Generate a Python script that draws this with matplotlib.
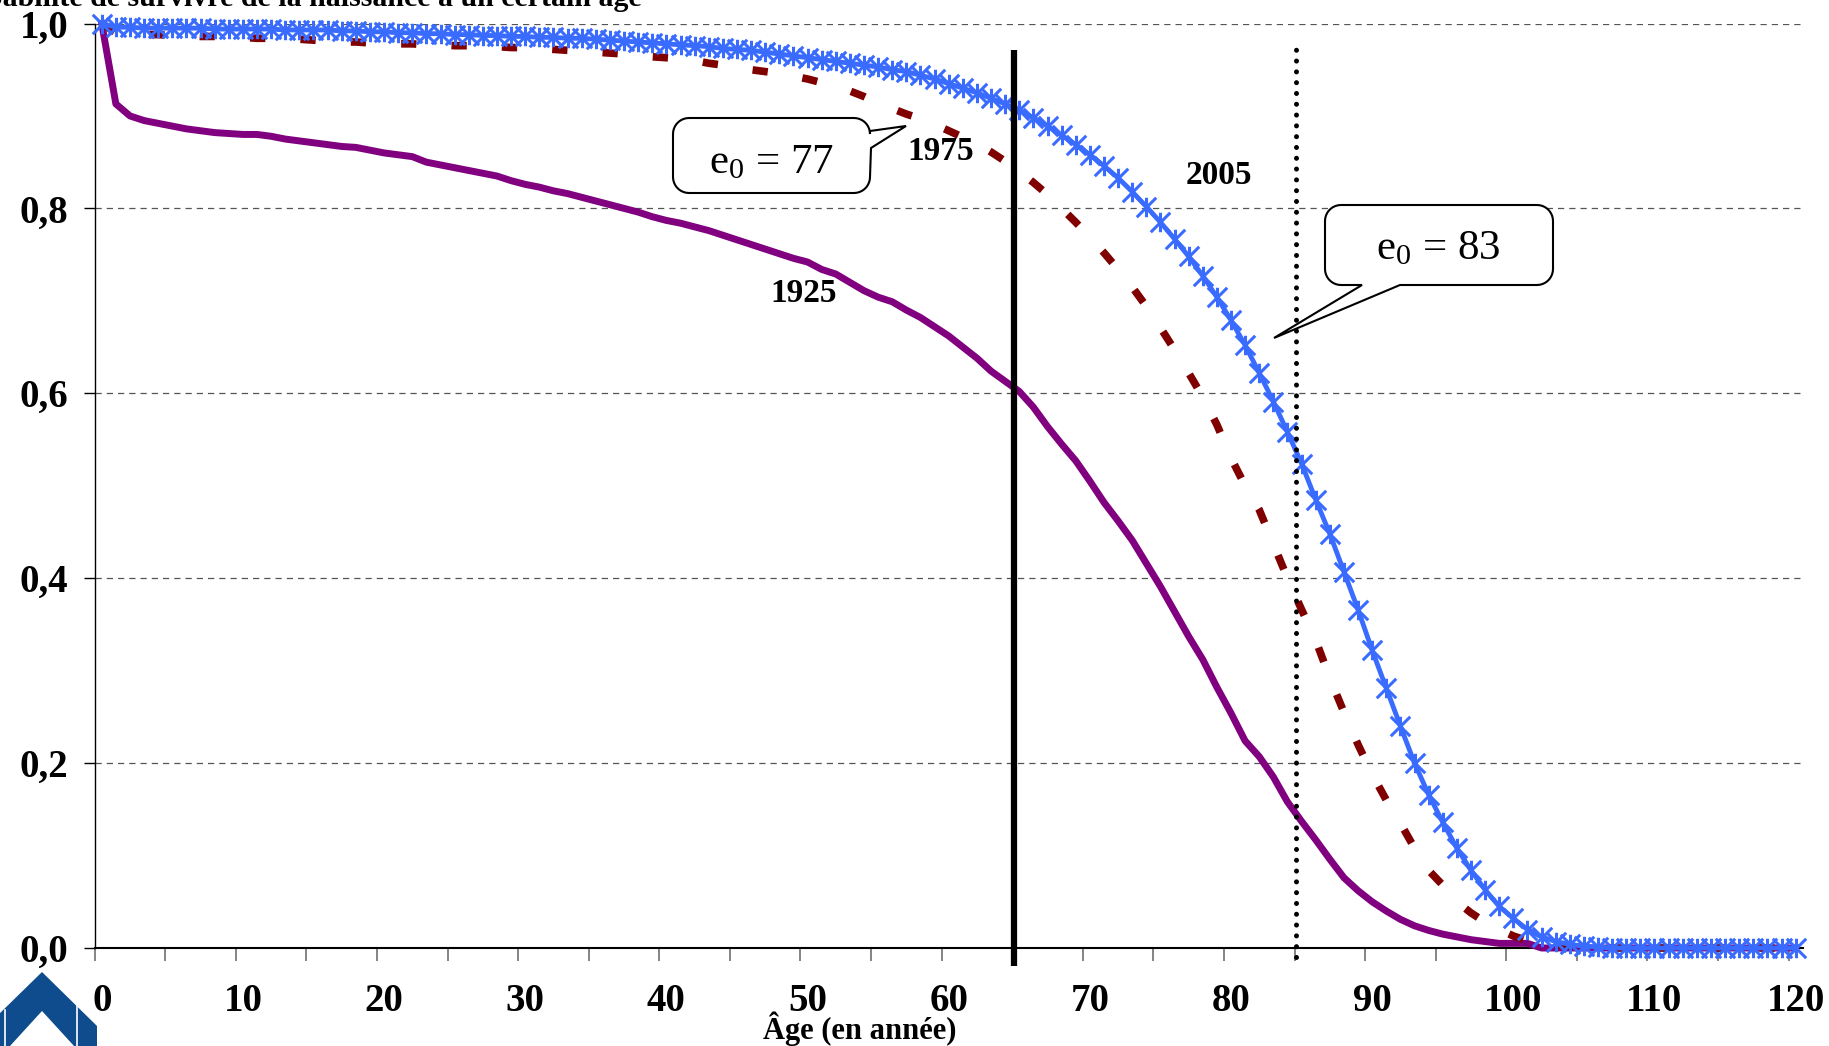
import numpy as np
import matplotlib
matplotlib.use('Agg')
import matplotlib.pyplot as plt
from matplotlib.path import Path
from matplotlib.patches import Polygon

plt.rcParams.update({'font.family': 'Liberation Serif', 'mathtext.fontset': 'custom',
                     'mathtext.rm': 'Liberation Serif', 'mathtext.it': 'Liberation Serif:italic'})

W, H = 1829, 1046

# ---- données ----
ages = list(range(0, 121))
s1925 = [1.000, 0.913, 0.900, 0.895, 0.892, 0.889, 0.886, 0.884, 0.882, 0.881,
         0.880, 0.880, 0.878, 0.875, 0.873, 0.871, 0.869, 0.867, 0.866, 0.863,
         0.860, 0.858, 0.856, 0.850, 0.847, 0.844, 0.841, 0.838, 0.835, 0.830,
         0.826, 0.823, 0.819, 0.816, 0.812, 0.808, 0.804, 0.800, 0.796, 0.791,
         0.787, 0.784, 0.780, 0.776, 0.771, 0.766, 0.761, 0.756, 0.751, 0.746,
         0.742, 0.734, 0.729, 0.720, 0.711, 0.704, 0.699, 0.690, 0.682, 0.672,
         0.662, 0.650, 0.638, 0.624, 0.613, 0.602, 0.585, 0.564, 0.545, 0.527,
         0.505, 0.482, 0.462, 0.441, 0.416, 0.391, 0.364, 0.337, 0.312, 0.282,
         0.254, 0.224, 0.207, 0.185, 0.158, 0.137, 0.117, 0.096, 0.076, 0.062,
         0.050, 0.040, 0.031, 0.024, 0.019, 0.015, 0.012, 0.009, 0.007, 0.005,
         0.005, 0.005, 0.000, 0.000, 0.000, 0.000, 0.000, 0.000, 0.000, 0.000,
         0.000, 0.000, 0.000, 0.000, 0.000, 0.000, 0.000, 0.000, 0.000, 0.000,
         0.000]
s1975 = [1.000, 0.990, 0.989, 0.988, 0.988, 0.987, 0.987, 0.986, 0.986, 0.985,
         0.985, 0.984, 0.984, 0.983, 0.983, 0.982, 0.981, 0.980, 0.980, 0.979,
         0.979, 0.978, 0.978, 0.977, 0.977, 0.976, 0.976, 0.975, 0.975, 0.974,
         0.974, 0.973, 0.972, 0.971, 0.970, 0.969, 0.968, 0.967, 0.966, 0.964,
         0.963, 0.962, 0.960, 0.957, 0.955, 0.953, 0.950, 0.948, 0.946, 0.943,
         0.940, 0.936, 0.932, 0.927, 0.921, 0.914, 0.908, 0.902, 0.897, 0.891,
         0.884, 0.877, 0.870, 0.861, 0.851, 0.840, 0.828, 0.815, 0.800, 0.785,
         0.769, 0.752, 0.734, 0.715, 0.694, 0.671, 0.647, 0.622, 0.596, 0.566,
         0.530, 0.500, 0.474, 0.437, 0.400, 0.366, 0.333, 0.292, 0.255, 0.220,
         0.188, 0.160, 0.135, 0.108, 0.084, 0.068, 0.050, 0.038, 0.028, 0.020,
         0.013, 0.008, 0.005, 0.003, 0.002, 0.001, 0.000, 0.000, 0.000, 0.000,
         0.000, 0.000, 0.000, 0.000, 0.000, 0.000, 0.000, 0.000, 0.000, 0.000,
         0.000]
s2005 = [1.000, 0.996, 0.996, 0.995, 0.995, 0.995, 0.995, 0.995, 0.994, 0.994,
         0.994, 0.994, 0.994, 0.993, 0.993, 0.993, 0.993, 0.992, 0.992, 0.991,
         0.991, 0.990, 0.990, 0.989, 0.989, 0.988, 0.988, 0.987, 0.987, 0.986,
         0.986, 0.985, 0.985, 0.984, 0.984, 0.983, 0.982, 0.981, 0.980, 0.979,
         0.978, 0.977, 0.976, 0.975, 0.973, 0.972, 0.971, 0.969, 0.967, 0.965,
         0.963, 0.961, 0.959, 0.957, 0.955, 0.953, 0.950, 0.948, 0.944, 0.940,
         0.935, 0.930, 0.925, 0.919, 0.913, 0.906, 0.898, 0.889, 0.879, 0.869,
         0.858, 0.846, 0.833, 0.818, 0.802, 0.785, 0.767, 0.748, 0.727, 0.704,
         0.679, 0.652, 0.622, 0.591, 0.558, 0.524, 0.485, 0.448, 0.407, 0.366,
         0.322, 0.281, 0.240, 0.200, 0.166, 0.136, 0.108, 0.084, 0.063, 0.045,
         0.032, 0.020, 0.012, 0.007, 0.004, 0.002, 0.001, 0.000, 0.000, 0.000,
         0.000, 0.000, 0.000, 0.000, 0.000, 0.000, 0.000, 0.000, 0.000, 0.000,
         0.000]
yticks = [0.0, 0.2, 0.4, 0.6, 0.8, 1.0]
xticks = list(range(0, 121, 10))
age_lines = [64.6, 84.6]   # traits verticaux (65 ans, 85 ans)

# marqueur "étoile" Excel : X + barre verticale
star = Path([(-1, -1), (1, 1), (-1, 1), (1, -1), (0, -1), (0, 1)],
            [Path.MOVETO, Path.LINETO, Path.MOVETO, Path.LINETO, Path.MOVETO, Path.LINETO])

fig = plt.figure(figsize=(W / 100, H / 100), dpi=100)
ax = fig.add_axes([94.7 / W, 1 - 948 / H, (1802.7 - 94.7) / W, (948 - 23.5) / H])
ax.set_xlim(-0.5, 120.5); ax.set_ylim(0, 1.0)

ax.plot(ages, s1925, color='#800080', lw=5, solid_joinstyle='round', clip_on=False, zorder=3)
ax.plot(ages, s1975, color='#800000', lw=5.5, linestyle=(0, (2.0, 4.6)), dash_capstyle='butt',
        clip_on=False, zorder=4)
ax.plot(ages, s2005, color='#3A6BFF', lw=3.5, marker=star, ms=14, mew=2.2, mfc='none',
        mec='#3A6BFF', clip_on=False, zorder=5)

ax.plot([age_lines[0]] * 2, [-0.019, 0.971], color='black', lw=4.5, solid_capstyle='butt',
        clip_on=False, zorder=7)
ax.plot([age_lines[1]] * 2, [-0.01, 0.979], color='black', lw=3.6, linestyle=(0, (0.01, 2.15)),
        dash_capstyle='round', clip_on=False, zorder=7)

# axes
for s in ['top', 'right']:
    ax.spines[s].set_visible(False)
ax.spines['left'].set_linewidth(1.0)
ax.spines['bottom'].set_linewidth(1.5)
ax.set_yticks(yticks)
ax.set_yticklabels([f'{v:.1f}'.replace('.', ',') for v in yticks], fontsize=28, fontweight='bold')
ax.tick_params(axis='y', length=8, width=1, pad=11)
ax.set_xticks(xticks)
ax.set_xticklabels([str(v) for v in xticks], fontsize=28, fontweight='bold')
ax.set_xticks(np.arange(-0.5, 120, 5), minor=True)
ax.tick_params(axis='x', which='major', length=0, pad=25)
ax.tick_params(axis='x', which='minor', length=9, width=1.2, color='#707070')
ax.yaxis.grid(True, linestyle=(0, (5, 4)), color='#555555', lw=0.9)
ax.set_axisbelow(True)

# étiquettes des courbes
def px(x, y):
    return x / W, 1 - y / H

for txt, (x, y) in [('1975', (941, 152)), ('2005', (1219, 175)), ('1925', (804, 294))]:
    fig.text(*px(x, y), txt, fontsize=24, fontweight='bold', ha='center', va='center', zorder=8)

# bulles e0
def bulle(x0, y0, x1, y1, r, tail, side):
    def arc(cx, cy, a0, a1):
        t = np.radians(np.linspace(a0, a1, 10))
        return list(zip(cx + r * np.cos(t), cy + r * np.sin(t)))
    pts = arc(x0 + r, y0 + r, 180, 270) + arc(x1 - r, y0 + r, 270, 360)
    if side == 'right':
        pts += tail
    pts += arc(x1 - r, y1 - r, 0, 90)
    if side == 'bottom':
        pts += tail
    pts += arc(x0 + r, y1 - r, 90, 180)
    pts = [px(a, b) for a, b in pts]
    fig.patches.append(Polygon(pts, closed=True, transform=fig.transFigure, facecolor='white',
                               edgecolor='black', lw=1.5, zorder=6))

bulle(673, 118, 870, 193, 16, [(870, 131), (906, 126), (871, 148)], 'right')
bulle(1325, 205, 1553, 285, 16, [(1400, 285), (1274, 338), (1362, 285)], 'bottom')
fig.text(*px(771, 173), r'e$_\mathrm{0}$ = 77', fontsize=31, ha='center', va='baseline', zorder=9)
fig.text(*px(1438, 259), r'e$_\mathrm{0}$ = 83', fontsize=31, ha='center', va='baseline', zorder=9)

# titres
fig.text(*px(642, 6), 'Probabilité de survivre de la naissance à un certain âge',
         fontsize=21.5, fontweight='bold', ha='right', va='baseline')
fig.text(*px(860, 1029), 'Âge (en année)', fontsize=22, fontweight='bold', ha='center', va='center')

# logo (coin bas gauche)
bleu = '#0E4C8E'
fig.patches.append(Polygon([px(-3, 1016), px(42, 972), px(97, 1026), px(97, 1046), px(-3, 1046)],
                           closed=True, transform=fig.transFigure, facecolor=bleu, edgecolor='none'))
fig.patches.append(Polygon([px(10, 1046), px(42, 1011), px(74, 1046)], closed=True,
                           transform=fig.transFigure, facecolor='white', edgecolor='none'))
fig.add_artist(plt.Line2D([77 / W] * 2, [1 - 1003 / H, 0], transform=fig.transFigure,
                          color='white', lw=1.2))
fig.add_artist(plt.Line2D([5 / W] * 2, [1 - 1010 / H, 0], transform=fig.transFigure,
                          color='white', lw=1.2))

fig.savefig('out.png', dpi=100)
